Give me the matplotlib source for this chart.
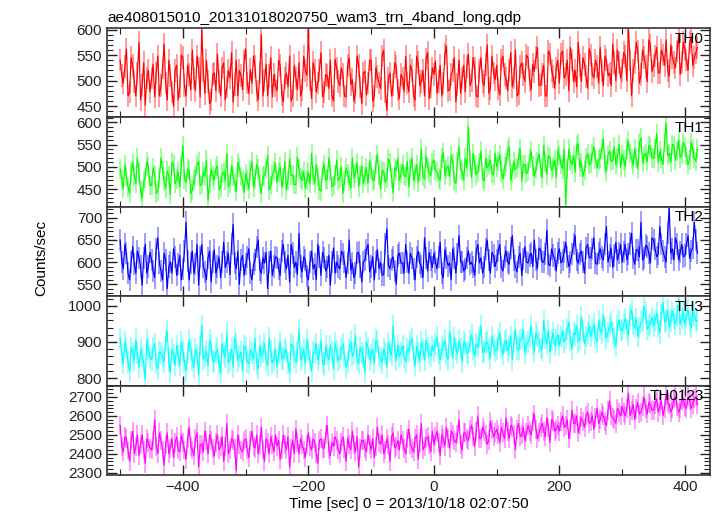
import numpy as np
import matplotlib
matplotlib.use('Agg')
import matplotlib.pyplot as plt
from matplotlib.ticker import MultipleLocator

plt.rcParams['font.family'] = ['Liberation Sans', 'DejaVu Sans']

# 2.5 s bins from -500 to 420: "_a" = bins at -500, -495, ...; "_b" = bins at -497.5, -492.5, ...
t_start = -500
t_bin = 2.5

th0_a = [540, 495, 562, 478, 530, 470, 575, 490, 452, 520,
         505, 468, 548, 490, 572, 462, 510, 450, 530, 488,
         545, 470, 512, 560, 480, 525, 600, 475, 498, 462,
         515, 552, 470, 535, 488, 505, 458, 540, 520, 482,
         562, 475, 495, 528, 462, 590, 500, 470, 545, 512,
         480, 530, 458, 515, 548, 470, 505, 535, 482, 520,
         598, 465, 520, 495, 555, 478, 510, 540, 460, 525,
         490, 512, 468, 545, 502, 476, 530, 455, 518, 495,
         540, 470, 508, 485, 560, 442, 515, 492, 528, 465,
         505, 548, 478, 520, 462, 535, 498, 470, 555, 488,
         512, 475, 530, 495, 568, 482, 520, 458, 540, 505,
         478, 552, 500, 525, 468, 545, 490, 570, 485, 515,
         530, 472, 548, 505, 520, 488, 560, 475, 535, 498,
         545, 482, 518, 565, 492, 530, 470, 552, 508, 525,
         495, 558, 512, 480, 540, 520, 575, 498, 532, 485,
         550, 505, 528, 565, 490, 540, 515, 572, 500, 535,
         520, 548, 605, 470, 535, 558, 512, 545, 498, 570,
         530, 565, 515, 550, 580, 508, 545, 525, 590, 535,
         560, 520, 585, 545, 565]
th0_b = [510, 528, 470, 545, 498, 515, 462, 535, 505, 478,
         532, 515, 470, 525, 495, 540, 478, 520, 462, 550,
         490, 530, 482, 505, 548, 468, 520, 540, 455, 512,
         480, 498, 525, 462, 520, 555, 492, 470, 510, 538,
         495, 522, 548, 480, 515, 470, 532, 510, 468, 490,
         540, 472, 505, 488, 460, 530, 482, 470, 548, 510,
         502, 535, 478, 520, 468, 512, 485, 470, 542, 498,
         525, 470, 530, 492, 460, 548, 488, 515, 472, 540,
         460, 525, 495, 548, 478, 505, 470, 535, 482, 512,
         478, 495, 530, 470, 548, 490, 520, 542, 465, 525,
         538, 498, 470, 552, 480, 512, 545, 492, 475, 530,
         528, 490, 545, 470, 520, 498, 532, 475, 548, 502,
         485, 540, 512, 480, 555, 505, 470, 528, 512, 550,
         500, 532, 545, 490, 512, 470, 558, 520, 485, 540,
         552, 505, 540, 565, 498, 488, 530, 545, 508, 562,
         512, 540, 495, 520, 548, 510, 490, 535, 560, 505,
         555, 500, 540, 520, 575, 495, 560, 528, 580, 518,
         548, 515, 560, 530, 520, 570, 535, 558, 512, 575,
         540, 575, 530, 555]

th1_a = [495, 452, 478, 440, 510, 462, 488, 430, 475, 500,
         458, 482, 445, 520, 468, 490, 438, 505, 472, 455,
         548, 465, 492, 448, 480, 512, 460, 478, 425, 495,
         470, 502, 455, 488, 530, 462, 478, 445, 498, 468,
         485, 450, 512, 472, 495, 440, 480, 525, 458, 490,
         465, 500, 475, 448, 518, 482, 460, 495, 470, 452,
         488, 530, 462, 478, 445, 505, 472, 490, 458, 515,
         475, 440, 498, 468, 520, 485, 455, 502, 478, 462,
         495, 470, 528, 450, 488, 475, 510, 442, 492, 468,
         505, 478, 455, 520, 485, 465, 540, 472, 498, 480,
         515, 488, 470, 532, 495, 478, 510, 462, 545, 490,
         520, 590, 475, 505, 488, 535, 468, 498, 515, 482,
         500, 528, 472, 510, 545, 485, 495, 520, 468, 505,
         490, 535, 478, 512, 498, 548, 482, 520, 500, 475,
         525, 495, 415, 540, 505, 488, 552, 510, 492, 530,
         508, 545, 498, 520, 562, 490, 535, 515, 505, 550,
         528, 500, 558, 518, 540, 495, 565, 525, 512, 545,
         520, 575, 535, 505, 598, 530, 550, 515, 560, 528,
         545, 505, 555, 520, 540]
th1_b = [470, 505, 455, 488, 478, 520, 445, 468, 512, 458,
         498, 440, 475, 492, 452, 480, 510, 462, 488, 505,
         472, 495, 440, 470, 505, 458, 488, 515, 462, 480,
         495, 448, 485, 470, 455, 502, 465, 510, 478, 442,
         470, 492, 455, 505, 462, 478, 495, 448, 482, 508,
         488, 455, 512, 470, 480, 460, 522, 475, 490, 470,
         462, 480, 505, 448, 492, 470, 520, 455, 482, 470,
         500, 468, 485, 452, 475, 510, 480, 462, 498, 512,
         470, 505, 480, 492, 465, 518, 475, 498, 520, 485,
         480, 512, 498, 470, 505, 490, 478, 525, 488, 510,
         492, 475, 520, 480, 502, 525, 468, 512, 495, 470,
         498, 515, 530, 482, 510, 475, 520, 505, 485, 530,
         512, 488, 500, 535, 470, 512, 498, 540, 505, 485,
         520, 502, 495, 530, 475, 510, 525, 492, 515, 538,
         505, 540, 495, 512, 525, 548, 498, 478, 520, 505,
         530, 518, 515, 540, 505, 528, 512, 545, 520, 498,
         515, 540, 530, 505, 520, 555, 510, 530, 548, 520,
         540, 510, 520, 555, 525, 510, 548, 535, 520, 555,
         525, 515, 540, 512]

th2_a = [650, 585, 620, 560, 635, 575, 610, 548, 640, 590,
         605, 565, 655, 580, 620, 540, 600, 630, 570, 615,
         585, 690, 560, 625, 595, 548, 640, 578, 610, 555,
         628, 590, 565, 645, 600, 572, 685, 585, 550, 615,
         595, 630, 560, 605, 650, 575, 598, 540, 625, 590,
         610, 570, 640, 585, 555, 620, 600, 665, 578, 605,
         560, 625, 595, 640, 570, 610, 588, 548, 632, 600,
         585, 618, 565, 650, 598, 575, 622, 555, 605, 640,
         590, 560, 628, 600, 572, 675, 585, 612, 550, 620,
         598, 640, 575, 610, 560, 625, 590, 655, 580, 605,
         620, 585, 645, 565, 610, 598, 630, 575, 660, 600,
         585, 625, 600, 570, 640, 610, 588, 650, 575, 615,
         605, 640, 580, 625, 595, 660, 590, 612, 570, 635,
         598, 620, 650, 585, 628, 600, 672, 592, 615, 580,
         630, 605, 645, 590, 618, 660, 598, 625, 575, 640,
         610, 655, 595, 630, 605, 680, 615, 588, 645, 620,
         600, 640, 618, 665, 595, 628, 690, 610, 635, 598,
         650, 612, 680, 625, 600, 722, 630, 655, 605, 640,
         615, 660, 625, 690, 620]
th2_b = [600, 640, 575, 600, 595, 625, 590, 610, 575, 622,
         580, 630, 598, 560, 605, 590, 575, 612, 595, 560,
         625, 602, 598, 575, 640, 612, 590, 560, 625, 600,
         575, 612, 600, 588, 620, 640, 598, 625, 605, 570,
         612, 575, 595, 635, 582, 610, 622, 600, 570, 612,
         585, 625, 600, 615, 640, 588, 572, 590, 612, 568,
         600, 585, 560, 612, 622, 580, 615, 600, 575, 590,
         625, 600, 598, 582, 565, 620, 590, 600, 628, 578,
         612, 600, 585, 570, 640, 592, 605, 580, 615, 598,
         575, 600, 620, 585, 612, 598, 565, 610, 622, 588,
         600, 612, 575, 628, 592, 560, 610, 618, 600, 580,
         610, 595, 588, 625, 598, 575, 630, 605, 622, 590,
         625, 588, 612, 600, 632, 605, 578, 620, 608, 600,
         615, 590, 605, 632, 600, 618, 595, 630, 608, 620,
         598, 622, 612, 600, 640, 605, 618, 600, 632, 610,
         630, 598, 620, 612, 640, 600, 632, 615, 605, 640,
         622, 605, 642, 610, 628, 612, 605, 638, 620, 655,
         630, 618, 640, 612, 665, 620, 605, 640, 622, 612,
         640, 608, 632, 650]

th3_a = [910, 840, 885, 820, 870, 905, 830, 860, 795, 880,
         850, 895, 825, 870, 845, 930, 815, 865, 890, 835,
         875, 820, 905, 850, 880, 810, 945, 860, 835, 890,
         845, 880, 815, 870, 925, 850, 830, 895, 860, 820,
         885, 840, 870, 910, 825, 860, 895, 835, 875, 850,
         830, 900, 855, 875, 815, 890, 845, 935, 860, 840,
         880, 820, 870, 850, 905, 835, 865, 890, 825, 875,
         855, 895, 830, 880, 860, 920, 840, 870, 815, 885,
         865, 840, 900, 855, 880, 830, 875, 945, 850, 860,
         890, 845, 875, 910, 835, 870, 900, 850, 885, 860,
         875, 915, 850, 890, 865, 930, 855, 880, 905, 845,
         895, 870, 920, 860, 885, 945, 875, 900, 855, 890,
         880, 925, 865, 905, 890, 850, 935, 880, 910, 870,
         900, 945, 875, 915, 885, 960, 895, 870, 925, 905,
         890, 930, 910, 955, 880, 920, 900, 970, 895, 925,
         915, 950, 900, 935, 975, 910, 945, 925, 890, 960,
         930, 965, 920, 990, 940, 915, 955, 1000, 935, 950,
         945, 980, 925, 1010, 960, 940, 985, 950, 1020, 965,
         950, 990, 940, 975, 960]
th3_b = [865, 900, 845, 885, 850, 870, 880, 840, 905, 858,
         885, 840, 872, 860, 905, 848, 880, 835, 862, 900,
         842, 868, 878, 830, 865, 890, 852, 875, 905, 848,
         870, 838, 895, 858, 842, 880, 910, 848, 872, 890,
         845, 878, 852, 840, 890, 872, 850, 912, 842, 880,
         868, 852, 880, 842, 895, 858, 872, 850, 880, 905,
         848, 872, 895, 865, 842, 888, 850, 872, 898, 848,
         880, 862, 845, 902, 870, 850, 885, 858, 900, 850,
         880, 905, 860, 842, 868, 898, 862, 875, 890, 870,
         858, 880, 900, 862, 888, 848, 880, 905, 868, 890,
         895, 870, 880, 905, 850, 890, 912, 868, 882, 900,
         870, 902, 880, 895, 912, 870, 898, 880, 915, 875,
         905, 885, 900, 875, 915, 900, 880, 905, 935, 890,
         912, 895, 925, 900, 878, 910, 932, 905, 890, 920,
         915, 900, 935, 905, 925, 945, 908, 930, 915, 945,
         935, 912, 960, 925, 940, 928, 955, 910, 945, 935,
         950, 935, 975, 948, 965, 940, 958, 980, 945, 968,
         960, 945, 975, 955, 990, 958, 965, 972, 948, 985,
         970, 955, 985, 958]

th0123_a = [2550, 2410, 2480, 2360, 2520, 2440, 2390, 2500, 2350, 2460,
            2420, 2580, 2400, 2470, 2340, 2510, 2430, 2380, 2490, 2410,
            2460, 2370, 2540, 2420, 2480, 2330, 2450, 2520, 2400, 2470,
            2390, 2500, 2440, 2360, 2560, 2420, 2470, 2310, 2450, 2410,
            2480, 2380, 2520, 2430, 2400, 2540, 2360, 2460, 2490, 2410,
            2440, 2370, 2500, 2420, 2330, 2470, 2530, 2400, 2450, 2380,
            2510, 2420, 2460, 2350, 2480, 2430, 2550, 2390, 2440, 2470,
            2400, 2490, 2360, 2450, 2520, 2410, 2330, 2470, 2430, 2500,
            2420, 2380, 2540, 2450, 2400, 2480, 2360, 2510, 2440, 2420,
            2470, 2400, 2530, 2430, 2480, 2370, 2560, 2440, 2490, 2410,
            2450, 2520, 2390, 2480, 2540, 2430, 2500, 2460, 2580, 2420,
            2510, 2470, 2550, 2440, 2600, 2480, 2520, 2450, 2570, 2490,
            2530, 2460, 2510, 2590, 2480, 2540, 2420, 2560, 2500, 2470,
            2550, 2500, 2610, 2480, 2540, 2520, 2590, 2460, 2570, 2530,
            2520, 2600, 2550, 2480, 2630, 2560, 2510, 2590, 2540, 2620,
            2570, 2530, 2640, 2580, 2600, 2550, 2680, 2590, 2560, 2620,
            2650, 2600, 2720, 2630, 2580, 2670, 2620, 2700, 2610, 2660,
            2630, 2690, 2650, 2600, 2710, 2660, 2640, 2700, 2620, 2680,
            2650, 2700, 2640, 2690, 2660]
th0123_b = [2440, 2490, 2420, 2470, 2400, 2500, 2450, 2420, 2480, 2430,
            2470, 2440, 2510, 2420, 2450, 2400, 2480, 2460, 2420, 2500,
            2420, 2480, 2440, 2390, 2510, 2450, 2410, 2470, 2500, 2430,
            2460, 2420, 2490, 2440, 2400, 2480, 2430, 2500, 2420, 2470,
            2420, 2470, 2440, 2500, 2450, 2420, 2480, 2400, 2450, 2500,
            2470, 2420, 2450, 2490, 2430, 2400, 2460, 2480, 2420, 2450,
            2440, 2480, 2400, 2470, 2430, 2500, 2420, 2460, 2490, 2420,
            2460, 2430, 2480, 2420, 2450, 2490, 2430, 2470, 2410, 2450,
            2480, 2440, 2460, 2500, 2420, 2450, 2490, 2430, 2470, 2500,
            2430, 2480, 2450, 2410, 2500, 2460, 2420, 2480, 2450, 2520,
            2490, 2460, 2500, 2440, 2480, 2520, 2470, 2500, 2450, 2510,
            2480, 2530, 2490, 2520, 2480, 2540, 2500, 2470, 2530, 2510,
            2500, 2540, 2480, 2520, 2550, 2500, 2530, 2490, 2540, 2510,
            2520, 2570, 2530, 2510, 2560, 2490, 2540, 2580, 2520, 2550,
            2570, 2540, 2580, 2530, 2560, 2600, 2550, 2570, 2600, 2560,
            2600, 2590, 2560, 2620, 2570, 2630, 2600, 2580, 2640, 2600,
            2620, 2640, 2600, 2660, 2640, 2610, 2650, 2640, 2670, 2630,
            2660, 2620, 2680, 2640, 2670, 2620, 2690, 2650, 2640, 2690,
            2640, 2680, 2660, 2700]

names = ['TH0', 'TH1', 'TH2', 'TH3', 'TH0123']
series = [(th0_a, th0_b), (th1_a, th1_b), (th2_a, th2_b), (th3_a, th3_b), (th0123_a, th0123_b)]
errs = [22, 22, 25, 30, 50]
colors = ['#ff0000', '#00ff00', '#0000ff', '#00ffff', '#ff00ff']
ylims = [(428, 603), (410, 611), (523, 725), (779, 1027), (2288, 2760)]
majors = [50, 50, 50, 100, 100]
minors = [10, 10, 10, 20, 20]

fig = plt.figure(figsize=(7.17, 5.16), dpi=100)
left = 107 / 717
width = (710 - 107) / 717
top = 1 - 28 / 516
h = (475 - 28) / 516 / 5

axes = []
for k in range(5):
    ax = fig.add_axes([left, top - (k + 1) * h, width, h])
    a, b = series[k]
    vals = np.empty(len(a) + len(b))
    vals[0::2] = a
    vals[1::2] = b
    t = t_start + t_bin * np.arange(len(vals))
    ax.errorbar(t, vals, yerr=errs[k], fmt='none', ecolor=colors[k], alpha=0.45, elinewidth=1.2)
    ax.plot(t, vals, color=colors[k], lw=0.85)
    ax.set_xlim(-521, 440)
    ax.set_ylim(*ylims[k])
    ax.yaxis.set_major_locator(MultipleLocator(majors[k]))
    ax.yaxis.set_minor_locator(MultipleLocator(minors[k]))
    ax.xaxis.set_major_locator(MultipleLocator(200))
    ax.xaxis.set_minor_locator(MultipleLocator(100))
    ax.tick_params(which='both', direction='in', top=True, right=True, labelsize=11, colors='#222222')
    ax.tick_params(which='major', length=7, width=1)
    ax.tick_params(which='minor', length=4, width=0.8)
    for s in ax.spines.values():
        s.set_linewidth(1.2)
        s.set_color('#333333')
    ax.text(0.99, 0.96, names[k], transform=ax.transAxes, ha='right', va='top', fontsize=11)
    if k < 4:
        ax.tick_params(labelbottom=False)
    axes.append(ax)

axes[0].set_title('ae408015010_20131018020750_wam3_trn_4band_long.qdp', loc='left', fontsize=11, pad=4)
axes[4].set_xlabel('Time [sec] 0 = 2013/10/18 02:07:50', fontsize=11, labelpad=2)
fig.text(0.057, 0.5, 'Counts/sec', rotation=90, ha='center', va='center', fontsize=11)

fig.savefig('out.png', dpi=100)
